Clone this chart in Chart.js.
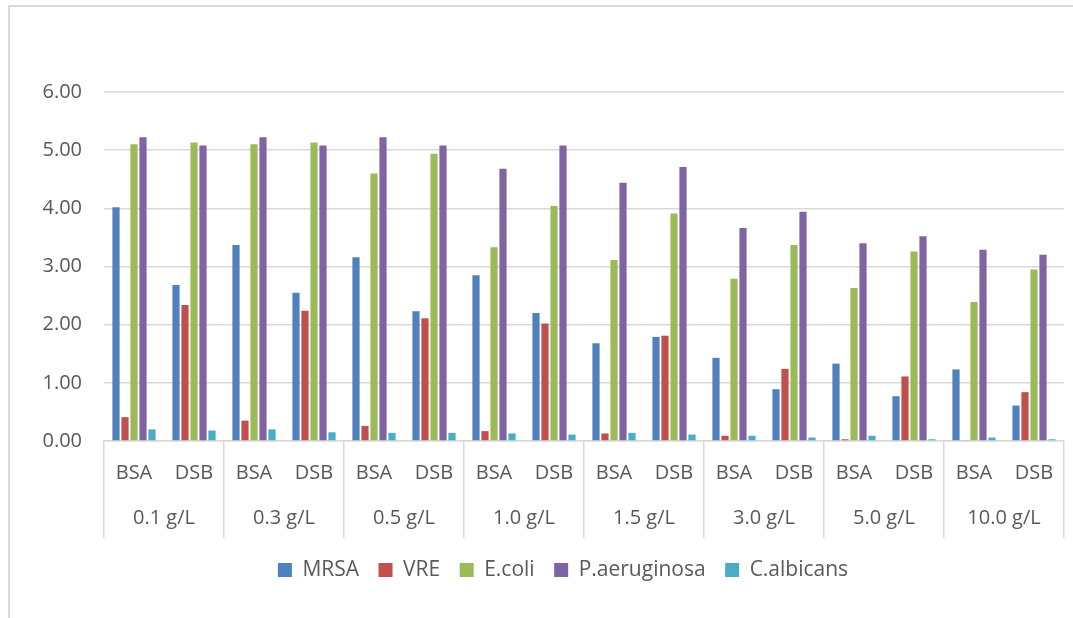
<!DOCTYPE html>
<html>
<head>
<meta charset="utf-8">
<title>Log reduction by concentration</title>
<script src="https://cdn.jsdelivr.net/npm/chart.js@4/dist/chart.umd.min.js"></script>
<style>
  html, body { margin: 0; padding: 0; background: #ffffff; overflow: hidden; }
  #wrap { position: relative; width: 1073px; height: 618px; }
  #frame {
    position: absolute; left: 8px; top: 5px; width: 1100px; height: 700px;
    border-left: 2px solid #d9d9d9; border-top: 2px solid #d9d9d9;
  }
  #chart { position: absolute; left: 0; top: 0; }
</style>
</head>
<body>
<div id="wrap">
  <div id="frame"></div>
  <canvas id="chart" width="1073" height="618"></canvas>
</div>
<script>
// Concentrations (outer axis level) and coating methods (inner axis level)
const concentrations = ['0.1 g/L', '0.3 g/L', '0.5 g/L', '1.0 g/L', '1.5 g/L', '3.0 g/L', '5.0 g/L', '10.0 g/L'];
const methods = ['BSA', 'DSB'];

// One value per (concentration, method) pair, in axis order
const mrsa        = [4.02, 2.68, 3.37, 2.55, 3.16, 2.23, 2.85, 2.20, 1.68, 1.79, 1.43, 0.89, 1.33, 0.77, 1.23, 0.61];
const vre         = [0.41, 2.34, 0.35, 2.24, 0.26, 2.11, 0.17, 2.02, 0.13, 1.81, 0.09, 1.24, 0.03, 1.11, 0.01, 0.84];
const ecoli       = [5.10, 5.13, 5.10, 5.13, 4.60, 4.94, 3.33, 4.04, 3.11, 3.91, 2.79, 3.37, 2.63, 3.26, 2.39, 2.95];
const paeruginosa = [5.22, 5.08, 5.22, 5.08, 5.22, 5.08, 4.68, 5.08, 4.44, 4.71, 3.66, 3.94, 3.40, 3.52, 3.29, 3.20];
const calbicans   = [0.20, 0.18, 0.20, 0.15, 0.14, 0.14, 0.13, 0.11, 0.14, 0.11, 0.09, 0.06, 0.09, 0.03, 0.06, 0.03];

const seriesNames = ['MRSA', 'VRE', 'E.coli', 'P.aeruginosa', 'C.albicans'];
const seriesValues = [mrsa, vre, ecoli, paeruginosa, calbicans];
const seriesColors = ['#4F81BD', '#C0504D', '#9BBB59', '#8064A2', '#4BACC6'];

const yTicks = [0, 1, 2, 3, 4, 5, 6];

const categoryLabels = concentrations.flatMap(() => methods);

const textColor = '#595959';
const lineColor = '#d9d9d9';
const fontFamily = '"Open Sans", "Liberation Sans", sans-serif';

// separator lines below the axis only between concentration groups
const groupSeparator = (ctx) =>
  (ctx.index === undefined || ctx.index % methods.length === 0) ? lineColor : 'rgba(0,0,0,0)';

// let the value labels use the space left of the padded y axis box
const yLabelRoom = {
  id: 'yLabelRoom',
  afterLayout(chart) {
    chart.scales.y.left = 0;
  }
};

new Chart(document.getElementById('chart'), {
  type: 'bar',
  plugins: [yLabelRoom],
  data: {
    labels: categoryLabels,
    datasets: seriesNames.map((name, i) => ({
      label: name,
      data: seriesValues[i],
      backgroundColor: seriesColors[i],
      borderWidth: 0,
      categoryPercentage: 0.75,
      barPercentage: 0.8
    }))
  },
  options: {
    responsive: false,
    animation: false,
    layout: { padding: { left: 62, right: 9, top: 92, bottom: 27.5 } },
    plugins: {
      legend: {
        position: 'bottom',
        labels: {
          boxWidth: 14,
          boxHeight: 14,
          padding: 19.5,
          color: textColor,
          font: { family: fontFamily, size: 21 }
        }
      },
      tooltip: { enabled: false }
    },
    scales: {
      x: {
        type: 'category',
        position: 'bottom',
        weight: 0,
        offset: true,
        grid: {
          offset: true,
          drawOnChartArea: false,
          drawTicks: true,
          tickLength: 97,
          color: groupSeparator,
          tickColor: groupSeparator,
          lineWidth: 1.5,
          tickWidth: 1.5
        },
        border: { display: true, color: lineColor, width: 1.5 },
        ticks: {
          autoSkip: false,
          maxRotation: 0,
          minRotation: 0,
          padding: -77,
          color: textColor,
          font: { family: fontFamily, size: 20 }
        },
        afterFit: (scale) => { scale.height = 42; }
      },
      x2: {
        type: 'category',
        position: 'bottom',
        weight: 1,
        labels: concentrations,
        offset: true,
        grid: { display: false, drawTicks: false, drawOnChartArea: false },
        border: { display: false },
        ticks: {
          autoSkip: false,
          maxRotation: 0,
          minRotation: 0,
          padding: 23,
          color: textColor,
          font: { family: fontFamily, size: 20 }
        },
        afterFit: (scale) => { scale.height = 57; }
      },
      y: {
        min: 0,
        max: 6,
        afterBuildTicks: (scale) => { scale.ticks = yTicks.map(v => ({ value: v })); },
        grid: { color: lineColor, lineWidth: 1.5, drawTicks: false },
        border: { display: false },
        ticks: {
          padding: 22,
          color: textColor,
          font: { family: fontFamily, size: 20 },
          callback: (v) => Number(v).toFixed(2)
        },
        afterFit: (scale) => { scale.width = 42; }
      }
    }
  }
});
</script>
</body>
</html>
